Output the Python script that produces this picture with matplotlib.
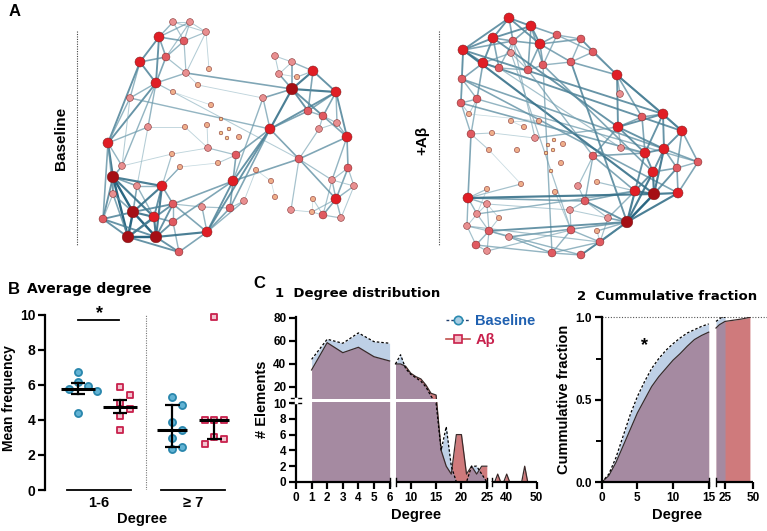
import numpy as np
import matplotlib
matplotlib.use('Agg')
import matplotlib.pyplot as plt
from matplotlib.lines import Line2D
from matplotlib.collections import LineCollection
import matplotlib.transforms as mtransforms

W, H = 767, 531

# ---------------- panel A: networks (node x, y in figure pixels, degree level 0-5)
base_x = [173, 190, 206, 159, 184, 166, 140, 186, 209, 156, 198, 173, 130, 211, 221, 229, 221, 227,
          207, 239, 185, 148, 108, 208, 172, 236, 218, 180, 122, 113, 137, 162, 233, 113, 173, 202,
          230, 244, 133, 154, 173, 103, 128, 156, 207, 179, 256, 271, 275,
          275, 292, 279, 297, 313, 292, 336, 263, 308, 323, 319, 337, 270, 347, 299, 348, 332, 354,
          336, 313, 291, 312, 323, 341]
base_y = [22, 22, 32, 37, 41, 57, 62, 73, 69, 83, 85, 92, 98, 105, 119, 129, 133, 138,
          125, 137, 127, 127, 143, 148, 154, 155, 163, 167, 166, 177, 186, 186, 181, 194, 204, 207,
          208, 201, 212, 217, 222, 219, 237, 237, 232, 252, 170, 181, 197,
          56, 62, 74, 77, 71, 89, 92, 98, 111, 116, 129, 123, 129, 137, 159, 168, 180, 186,
          199, 199, 210, 212, 215, 218]
base_lvl = [2, 2, 2, 4, 3, 3, 4, 2, 1, 4, 1, 1, 2, 1, 0, 0, 0, 0,
            1, 1, 1, 2, 4, 2, 1, 3, 1, 1, 2, 5, 2, 4, 4, 2, 3, 2,
            3, 2, 5, 4, 3, 3, 5, 5, 4, 3, 1, 1, 1,
            2, 2, 2, 1, 4, 5, 4, 2, 3, 3, 2, 2, 4, 4, 3, 3, 2, 2,
            4, 1, 2, 1, 3, 2]
base_edges = [(0, 1), (0, 3), (0, 4), (0, 2), (1, 2), (1, 4), (1, 3), (1, 5), (3, 4), (3, 5), (3, 6),
              (3, 9), (4, 5), (4, 7), (4, 2), (5, 6), (5, 9), (2, 8), (2, 7), (5, 7), (6, 9), (6, 12),
              (6, 22), (9, 11), (9, 12), (9, 21), (9, 28), (9, 22), (7, 10), (7, 9), (11, 13), (11, 63),
              (10, 56), (12, 22), (22, 29), (22, 33), (22, 41), (22, 28), (21, 22), (21, 30), (29, 30),
              (29, 33), (29, 38), (29, 42), (29, 41), (29, 28), (30, 31), (30, 38), (30, 39), (31, 39),
              (31, 38), (31, 34), (31, 24), (31, 27), (33, 41), (33, 38), (38, 39), (38, 42), (38, 43),
              (38, 41), (39, 40), (39, 43), (39, 42), (40, 43), (40, 34), (40, 45), (41, 42), (42, 43),
              (43, 45), (43, 44), (42, 45), (34, 35), (34, 44), (35, 36), (35, 44), (36, 32), (36, 37),
              (36, 44), (32, 25), (32, 44), (32, 34), (32, 40), (32, 61), (32, 63), (25, 23), (25, 26),
              (25, 61), (23, 20), (23, 18), (23, 24), (26, 27), (27, 31), (24, 28), (28, 12), (21, 20),
              (44, 45), (37, 46), (46, 47), (47, 48), (44, 61), (36, 61), (29, 39), (33, 42), (42, 34),
              (43, 31), (38, 34), (41, 43), (44, 37), (43, 34), (29, 31),
              (49, 50), (49, 51), (50, 51), (50, 53), (50, 54), (51, 54), (51, 52), (52, 53), (53, 54),
              (53, 55), (54, 55), (54, 56), (54, 57), (54, 58), (54, 61), (55, 58), (55, 62), (55, 60),
              (55, 57), (56, 61), (57, 58), (58, 59), (58, 60), (59, 60), (60, 62), (58, 62), (59, 63),
              (61, 63), (62, 64), (62, 65), (63, 65), (63, 69), (64, 65), (64, 66), (64, 67), (65, 67),
              (65, 71), (66, 67), (66, 72), (67, 71), (67, 72), (67, 70), (68, 70), (68, 71), (69, 70),
              (70, 71), (71, 72), (65, 66), (61, 55), (56, 32), (63, 67), (63, 62), (61, 57), (53, 57),
              (7, 54), (12, 61)]

ab_x = [509, 531, 493, 513, 540, 557, 581, 593, 511, 463, 483, 499, 528, 543, 571, 617, 462, 620,
        461, 477, 469, 471, 511, 524, 539, 492, 535, 489, 517, 548, 554, 563, 553, 546, 561, 551,
        593, 621, 642, 663, 618, 682, 645, 664, 698, 677, 653, 635, 654, 678, 597, 578, 555, 521,
        585, 570, 608, 627, 597, 571, 600, 468, 487, 487, 477, 499, 467, 489, 509, 476, 487, 552, 581]
ab_y = [18, 26, 38, 41, 44, 35, 39, 52, 53, 50, 63, 68, 70, 65, 62, 75, 79, 94,
        103, 99, 114, 134, 121, 127, 121, 133, 138, 150, 150, 145, 140, 144, 150, 153, 163, 171,
        156, 148, 117, 114, 127, 131, 153, 149, 162, 168, 172, 191, 194, 193, 182, 186, 192, 184,
        201, 210, 218, 222, 231, 230, 242, 198, 189, 204, 214, 218, 226, 231, 237, 245, 251, 253, 255]
ab_lvl = [4, 4, 4, 3, 4, 3, 3, 3, 2, 4, 4, 3, 3, 3, 3, 4, 3, 2,
          3, 3, 1, 3, 1, 1, 1, 1, 2, 1, 1, 0, 0, 1, 0, 0, 1, 0,
          3, 2, 3, 4, 4, 4, 4, 4, 3, 3, 4, 4, 5, 4, 1, 2, 1, 1,
          3, 2, 2, 5, 1, 3, 3, 4, 1, 2, 2, 1, 2, 3, 2, 3, 2, 3, 3]
ab_edges = [(0, 1), (0, 2), (0, 3), (0, 4), (0, 9), (1, 3), (1, 4), (1, 5), (1, 12), (1, 13), (1, 2),
            (2, 3), (2, 9), (2, 10), (2, 11), (3, 4), (3, 8), (3, 11), (3, 12), (4, 5), (4, 6), (4, 12),
            (4, 13), (4, 14), (5, 6), (5, 7), (5, 13), (6, 7), (6, 14), (6, 15), (7, 15), (7, 14),
            (8, 10), (8, 12), (9, 10), (9, 16), (9, 18), (10, 11), (10, 16), (10, 19), (11, 12),
            (12, 13), (13, 14), (14, 15), (15, 17), (15, 38), (15, 39), (15, 40), (16, 18), (16, 19),
            (18, 19), (18, 20), (18, 21), (19, 20), (19, 21), (9, 3),
            (2, 40), (9, 39), (16, 43), (18, 42), (10, 41), (11, 37), (12, 36), (19, 44), (14, 57),
            (15, 41), (13, 46), (16, 49), (9, 48), (3, 26), (20, 24), (24, 22), (22, 23), (25, 26),
            (26, 40), (27, 53), (21, 25), (21, 27), (8, 59), (13, 71), (21, 61),
            (38, 39), (38, 40), (38, 42), (39, 41), (39, 43), (39, 42), (39, 40), (40, 42), (40, 43),
            (40, 36), (41, 43), (41, 44), (41, 45), (42, 43), (42, 46), (42, 47), (43, 44), (43, 45),
            (43, 46), (43, 48), (44, 45), (44, 49), (45, 46), (45, 48), (45, 49), (46, 47), (46, 48),
            (47, 48), (47, 57), (47, 54), (48, 49), (48, 57), (49, 57), (47, 56), (46, 57), (37, 42),
            (37, 40), (36, 42), (36, 47), (36, 54),
            (50, 47), (51, 54), (51, 36), (52, 59), (53, 61), (54, 55), (54, 57), (54, 56), (55, 59),
            (55, 56), (56, 57), (56, 60), (57, 60), (57, 58), (58, 60), (59, 60), (59, 71), (60, 72),
            (71, 72), (71, 60), (71, 68), (61, 62), (61, 63), (61, 64), (61, 66), (62, 64), (63, 64),
            (63, 65), (63, 67), (64, 66), (64, 67), (66, 67), (66, 69), (67, 69), (67, 70), (67, 68),
            (69, 70), (68, 71), (65, 67), (69, 71), (61, 54), (63, 55), (67, 57), (68, 57), (70, 59),
            (64, 47), (66, 60), (61, 48), (67, 72), (72, 57)]

# ---------------- panel B: mean frequency per animal
b_base_low = [6.72, 6.15, 5.94, 5.75, 5.65, 4.42]
b_ab_low = [5.90, 5.43, 4.95, 4.65, 4.23, 3.40]
b_base_high = [5.33, 4.86, 3.90, 3.40, 2.95, 2.48, 2.32]
b_ab_high = [9.90, 4.02, 4.00, 3.98, 3.05, 2.93, 2.60]
b_groups = ['1-6', '\u2265 7']

# ---------------- panel C1: degree distribution (# elements)
c1_deg1 = [1, 2, 3, 4, 5, 6]
c1_base1 = [44, 61.5, 58, 67, 59.4, 58]
c1_ab1 = [34.8, 58.5, 49.8, 54.5, 46.3, 42.6]
c1_deg2 = list(range(7, 26))
c1_base2 = [40, 48, 36, 31, 28, 25, 20, 12, 10, 4, 7, 2, 0, 0, 0, 2, 2, 1, 0]
c1_ab2 = [40, 40, 38, 32, 29, 27, 21.7, 14.5, 13, 4, 2, 1, 6, 6, 1, 2, 1, 2, 2]
c1_deg3 = list(range(35, 51))
c1_base3 = [0] * 16
c1_ab3 = [0, 0, 1, 0, 0, 1, 0, 0, 0, 0, 0, 2, 0, 0, 0, 0]

# ---------------- panel C2: cumulative fraction
c2_deg1 = list(range(0, 16))
c2_base1 = [0, .05, .15, .28, .41, .52, .61, .69, .75, .80, .84, .875, .905, .925, .945, .96]
c2_ab1 = [0, .04, .12, .22, .32, .42, .50, .58, .64, .69, .74, .78, .825, .865, .89, .91]
c2_deg2_base = [17, 20, 22, 25]
c2_base2 = [0.975, 0.99, 1.0, 1.0]
c2_deg2_ab = [17, 20, 25, 35, 40, 47]
c2_ab2 = [0.935, 0.955, 0.975, 0.985, 0.99, 1.0]

# colours
NODE_COL = ['#f5c78e', '#efae8a', '#e88f90', '#e05a61', '#e01d25', '#a50f15']
NODE_SIZE = [7, 14, 24, 32, 52, 70]
EDGE_LIGHT = np.array(matplotlib.colors.to_rgb('#a9c8d2'))
EDGE_DARK = np.array(matplotlib.colors.to_rgb('#1f5f7b'))
BLUE_FILL = '#789dcb'
RED_FILL = '#cf7a7c'
CRIMSON = '#c8204c'

SANS = 'Liberation Sans'
TITLE = 'DejaVu Sans'
plt.rcParams['font.family'] = SANS
plt.rcParams['font.weight'] = 'bold'
plt.rcParams['axes.labelweight'] = 'bold'


def rect(x0, y0, x1, y1):
    return [x0 / W, 1 - y1 / H, (x1 - x0) / W, (y1 - y0) / H]


def piecewise(xp, fp):
    xp = np.asarray(xp, float)
    fp = np.asarray(fp, float)

    def f(x):
        x = np.asarray(x, float)
        y = np.interp(x, xp, fp)
        y = np.where(x < xp[0], fp[0] + (x - xp[0]) * (fp[1] - fp[0]) / (xp[1] - xp[0]), y)
        y = np.where(x > xp[-1], fp[-1] + (x - xp[-1]) * (fp[-1] - fp[-2]) / (xp[-1] - xp[-2]), y)
        return y
    return f


def draw_net(ax, xs, ys, lv, edges):
    xs, ys, lv = np.asarray(xs), np.asarray(ys), np.asarray(lv)
    segs, cols, lws = [], [], []
    for a, b in edges:
        s = (lv[a] + lv[b]) / 10.0
        t = s ** 1.6
        segs.append([(xs[a], ys[a]), (xs[b], ys[b])])
        cols.append((*(EDGE_LIGHT * (1 - t) + EDGE_DARK * t), 0.55 + 0.4 * t))
        lws.append(0.45 + 1.3 * t)
    ax.add_collection(LineCollection(segs, colors=cols, linewidths=lws, zorder=1))
    order = np.argsort(lv, kind='stable')
    ax.scatter(xs[order], ys[order], s=[NODE_SIZE[l] for l in lv[order]],
               c=[NODE_COL[l] for l in lv[order]], edgecolors='#7a2020', linewidths=0.35,
               zorder=2)


def swarm(vals, xs_px, ys_px, diam):
    vals = np.asarray(vals)
    offs = np.zeros(len(vals))
    placed = []
    for i in np.argsort(-vals, kind='stable'):
        y = vals[i] * ys_px
        for k in [0, 1, -1, 2, -2, 3, -3]:
            x = k * diam
            if all(np.hypot(x - px, y - py) >= diam for px, py in placed):
                break
        placed.append((x, y))
        offs[i] = x / xs_px
    return offs


fig = plt.figure(figsize=(W / 100, H / 100), dpi=100)

# ---------------- A
axA = fig.add_axes(rect(0, 0, W, 280))
axA.set_xlim(0, W)
axA.set_ylim(280, 0)
axA.axis('off')
draw_net(axA, base_x, base_y, base_lvl, base_edges)
draw_net(axA, ab_x, ab_y, ab_lvl, ab_edges)
for xl in (77, 439):
    axA.plot([xl, xl], [31, 245], ls=(0, (1, 1.2)), lw=0.8, color='#444444')
axA.text(61, 138, 'Baseline', rotation=90, ha='center', va='center', fontsize=11)
axA.text(422, 140, '+A\u03b2', rotation=90, ha='center', va='center', fontsize=11)
fig.text(9 / W, 1 - 12 / H, 'A', fontsize=12, va='center', ha='left')

# ---------------- B
axB = fig.add_axes(rect(45, 306, 240, 490))
pos = [1, 2, 3.24, 4.24]
xs_px = 42.0
ys_px = 17.5
axB.set_xlim(0.214, 4.857)
axB.set_ylim(0, 10.5)
for sp in ('top', 'right', 'bottom'):
    axB.spines[sp].set_visible(False)
axB.spines['left'].set_linewidth(1.6)
axB.spines['left'].set_bounds(0, 10)
axB.set_yticks([0, 2, 4, 6, 8, 10])
axB.tick_params(axis='y', length=5, width=1.6, labelsize=10, pad=2)
axB.set_xticks([])
axB.set_ylabel('Mean frequency', fontsize=10, labelpad=3)

series = [(b_base_low, 'o'), (b_ab_low, 's'), (b_base_high, 'o'), (b_ab_high, 's')]
for i, (vals, mk) in enumerate(series):
    vals = np.asarray(vals)
    offs = swarm(vals, xs_px, ys_px, 9.5)
    if mk == 'o':
        axB.scatter(pos[i] + offs, vals, s=26, marker='o', facecolor='#62b3d4', edgecolor='#2a87ad',
                    linewidths=1.3, zorder=3, clip_on=False)
    else:
        axB.scatter(pos[i] + offs, vals, s=20, marker='s', facecolor='#f2c4cf', edgecolor=CRIMSON,
                    linewidths=1.3, zorder=3, clip_on=False)
    if i < 2:
        centre = vals.mean()
        sem = vals.std(ddof=1) / np.sqrt(len(vals))
        lo, hi = centre - sem, centre + sem
        half, cap = 0.4, 0.16
    else:
        centre = np.median(vals)
        lo, hi = np.percentile(vals, [25, 75], method='weibull')
        half, cap = 0.36, 0.18
    axB.plot([pos[i] - half, pos[i] + half], [centre, centre], color='black', lw=2.2, zorder=4,
             solid_capstyle='butt')
    axB.plot([pos[i], pos[i]], [lo, hi], color='black', lw=1.6, zorder=4)
    for yy in (lo, hi):
        axB.plot([pos[i] - cap, pos[i] + cap], [yy, yy], color='black', lw=1.6, zorder=4,
                 solid_capstyle='butt')

axB.plot([2.62, 2.62], [0, 10], ls=(0, (1, 1.2)), lw=0.8, color='#777777')
axB.plot([pos[0], pos[1] - 0.02], [9.72, 9.72], color='black', lw=1.3)
axB.text((pos[0] + pos[1]) / 2, 10.05, '*', ha='center', va='center', fontsize=13)
xblend = mtransforms.blended_transform_factory(axB.transData, axB.transAxes)
for g, (a, b) in enumerate([(0, 1), (2, 3)]):
    c = (pos[a] + pos[b]) / 2
    axB.plot([c - 0.76, c + 0.76], [0, 0], color='black', lw=1.3, clip_on=False, transform=xblend)
    axB.text(c, -0.035, b_groups[g], ha='center', va='top', fontsize=10.5, transform=xblend)
axB.text(0.5, -0.12, 'Degree', ha='center', va='top', fontsize=10.5, transform=axB.transAxes)
fig.text(8 / W, 1 - 289 / H, 'B', fontsize=12, va='center', ha='left')
fig.text(27 / W, 1 - 289 / H, 'Average degree', fontsize=10, va='center', ha='left',
         family=TITLE)

# ---------------- C1
c1x = piecewise([0, 6, 7, 25, 35, 50], [0, 93.6, 99.5, 190.8, 195.7, 240.7])
c1xi = piecewise([0, 93.6, 99.5, 190.8, 195.7, 240.7], [0, 6, 7, 25, 35, 50])
c1y = piecewise([0, 10, 10.5, 81], [0, 79, 84.1, 165.2])
c1yi = piecewise([0, 79, 84.1, 165.2], [0, 10, 10.5, 81])
axC = fig.add_axes(rect(296, 316.8, 536.7, 482))
axC.set_xscale('function', functions=(c1x, c1xi))
axC.set_yscale('function', functions=(c1y, c1yi))
axC.set_xlim(0, 50)
axC.set_ylim(0, 81)
for d, b, a in [(c1_deg1, c1_base1, c1_ab1), (c1_deg2, c1_base2, c1_ab2), (c1_deg3, c1_base3, c1_ab3)]:
    axC.fill_between(d, 0, a, color=RED_FILL, lw=0, zorder=1)
    axC.fill_between(d, 0, b, color=BLUE_FILL, alpha=0.48, lw=0, zorder=2)
    axC.plot(d, a, color='#3a2a2a', lw=0.9, zorder=3)
    axC.plot(d, b, color='black', lw=0.9, ls=(0, (2, 1.6)), zorder=3)
axC.axhspan(10.08, 10.42, color='white', zorder=5, lw=0)
for sp in ('top', 'right', 'bottom'):
    axC.spines[sp].set_visible(False)
axC.spines['left'].set_linewidth(1.6)
axC.set_yticks([0, 2, 4, 6, 8, 10, 20, 40, 60, 80])
axC.set_xticks([0, 1, 2, 3, 4, 5, 6, 10, 15, 20, 25, 40, 50])
axC.tick_params(length=5, width=1.6, labelsize=8.5, pad=2)
blend = mtransforms.blended_transform_factory(axC.transData, axC.transAxes)
for lo, hi in [(0, 6), (7, 25), (35, 50)]:
    axC.plot([lo, hi], [0, 0], color='black', lw=1.6, transform=blend, clip_on=False, zorder=6,
             solid_capstyle='butt')
    for e in (lo, hi):
        if e not in (0, 50):
            axC.plot([e, e], [-0.025, 0.025], color='black', lw=1.0, transform=blend,
                     clip_on=False, zorder=6)
yblend = mtransforms.blended_transform_factory(axC.transAxes, axC.transData)
axC.plot([-0.02, 0.02], [10.04, 10.04], color='black', lw=1.0, transform=yblend, clip_on=False, zorder=6)
axC.plot([-0.02, 0.02], [10.46, 10.46], color='black', lw=1.0, transform=yblend, clip_on=False, zorder=6)
axC.plot([-0.001, -0.001], [10.08, 10.42], color='white', lw=2.5, transform=yblend, clip_on=False, zorder=7)
axC.set_ylabel('# Elements', fontsize=10.5, labelpad=3)
axC.set_xlabel('Degree', fontsize=10.5, labelpad=3)
fig.text(253 / W, 1 - 284 / H, 'C', fontsize=12, va='center', ha='left')
fig.text(275 / W, 1 - 294 / H, '1  Degree distribution', fontsize=9.5, va='center', ha='left',
         family=TITLE)

h1 = Line2D([], [], color='#1f3f6f', ls=(0, (2, 1.5)), lw=1, marker='o', ms=6, mfc='#a8cde3',
            mec='#2a8ab0', mew=1.2)
h2 = Line2D([], [], color='#c0504d', ls='-', lw=1.2, marker='s', ms=5.5, mfc='#f2bcc6',
            mec=CRIMSON, mew=1.2)
fig.legend([h1, h2], ['Baseline', 'A\u03b2'], loc='upper left', bbox_to_anchor=(439 / W, 1 - 307 / H),
           frameon=False, labelcolor=['#1f60b0', CRIMSON], prop={'weight': 'bold', 'size': 10.5},
           handlelength=1.6, handletextpad=0.4, labelspacing=0.3, borderpad=0)

# ---------------- C2
c2x = piecewise([0, 15, 17, 50], [0, 107, 114.3, 151.6])
c2xi = piecewise([0, 107, 114.3, 151.6], [0, 15, 17, 50])
axD = fig.add_axes(rect(601.7, 317.3, 753.3, 482.3))
axD.set_xscale('function', functions=(c2x, c2xi))
axD.set_xlim(0, 50)
axD.set_ylim(0, 1)
for d, v in [(c2_deg1, c2_ab1), (c2_deg2_ab, c2_ab2)]:
    axD.fill_between(d, 0, v, color=RED_FILL, lw=0, zorder=1)
    axD.plot(d, v, color='#3a2a2a', lw=0.9, zorder=3)
for d, v in [(c2_deg1, c2_base1), (c2_deg2_base, c2_base2)]:
    axD.fill_between(d, 0, v, color=BLUE_FILL, alpha=0.48, lw=0, zorder=2)
    axD.plot(d, v, color='black', lw=0.9, ls=(0, (2, 1.6)), zorder=3)
axD.axhline(1.0, xmin=0, xmax=1.09, color='#555555', lw=0.8, ls=(0, (1, 1.5)), clip_on=False)
for sp in ('top', 'right', 'bottom'):
    axD.spines[sp].set_visible(False)
axD.spines['left'].set_linewidth(1.6)
axD.set_yticks([0, 0.5, 1.0])
axD.set_yticklabels(['0.0', '0.5', '1.0'])
axD.set_yticks([0.25, 0.75], minor=True)
axD.set_xticks([0, 5, 10, 15, 25, 50])
axD.tick_params(length=5, width=1.6, labelsize=8.5, pad=2)
axD.tick_params(which='minor', length=4, width=1.4)
blend = mtransforms.blended_transform_factory(axD.transData, axD.transAxes)
for lo, hi in [(0, 15), (17, 50)]:
    axD.plot([lo, hi], [0, 0], color='black', lw=1.6, transform=blend, clip_on=False, zorder=6,
             solid_capstyle='butt')
    for e in (lo, hi):
        if e not in (0, 50):
            axD.plot([e, e], [-0.025, 0.025], color='black', lw=1.0, transform=blend,
                     clip_on=False, zorder=6)
axD.text(6, 0.83, '*', ha='center', va='center', fontsize=13)
axD.set_ylabel('Cummulative fraction', fontsize=10.5, labelpad=3)
axD.set_xlabel('Degree', fontsize=10.5, labelpad=3)
fig.text(577 / W, 1 - 296 / H, '2  Cummulative fraction', fontsize=9.5, va='center', ha='left',
         family=TITLE)

fig.savefig('out.png', dpi=100)
